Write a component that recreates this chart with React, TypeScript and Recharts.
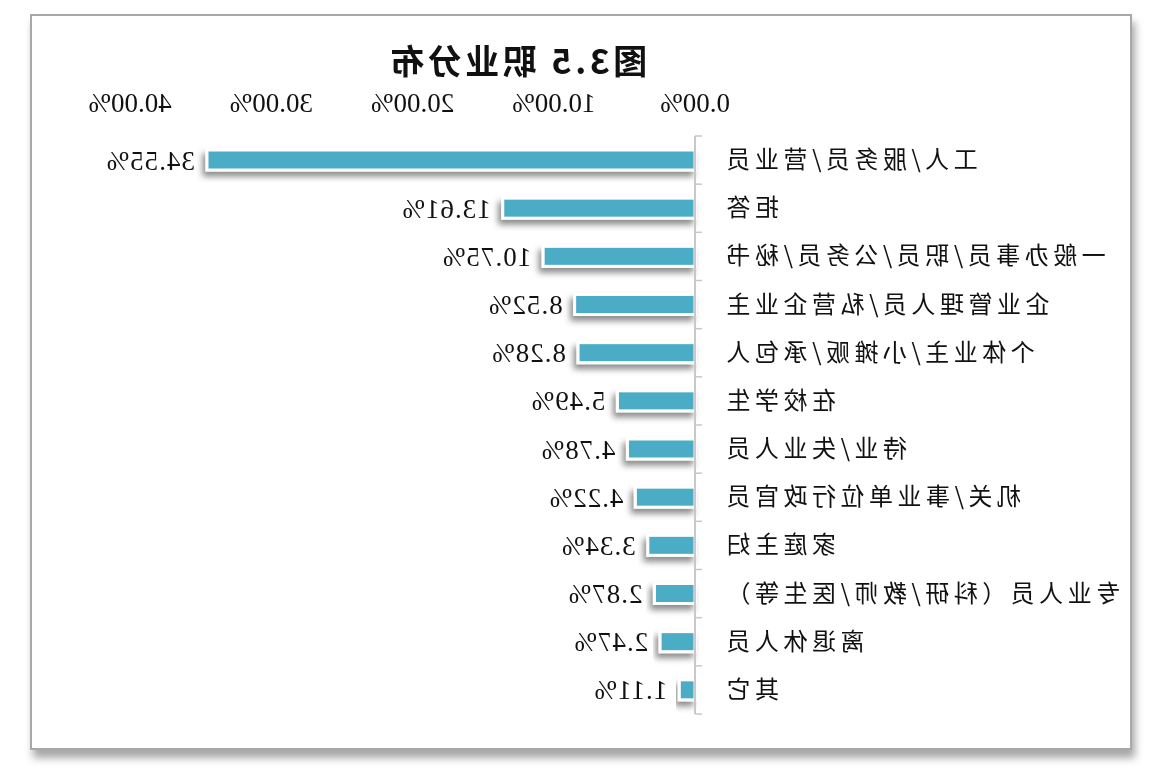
import React from "react";
import { BarChart, Bar, XAxis, YAxis, LabelList } from "recharts";

// 职业分布 (the reference picture is mirrored left-right, so the chart is flipped with scaleX(-1))
const categories = [
  "工人/服务员/营业员",
  "拒答",
  "一般办事员/职员/公务员/秘书",
  "企业管理人员/私营企业主",
  "个体业主/小摊贩/承包人",
  "在校学生",
  "待业/失业人员",
  "机关/事业单位行政官员",
  "家庭主妇",
  "专业人员（科研/教师/医生等）",
  "离退休人员",
  "其它",
];
const shares = [34.55, 13.61, 10.75, 8.52, 8.28, 5.49, 4.78, 4.22, 3.34, 2.87, 2.47, 1.11];
const xTicks = [0, 10, 20, 30, 40];
const title = "图3.5 职业分布";

const data = categories.map((name, i) => ({ name, value: shares[i] }));

const W = 1098;
const H = 732;
const margin = { top: 80, right: 98, bottom: 34, left: 0 };
const yAxisWidth = 435;
const band = (H - margin.top - 40 - margin.bottom) / categories.length;
const serif = "'Liberation Serif', 'DejaVu Serif', serif";
const cjk = "'Noto Sans CJK SC', 'Noto Sans', sans-serif";

const pct = (v: number) => v.toFixed(2) + "%";

function CategoryTick(props: any) {
  const { x, y, payload, index } = props;
  const axisX = x + 27;
  return (
    <g>
      <line x1={axisX - 7} x2={axisX} y1={y - band / 2} y2={y - band / 2} stroke="#c8c8c8" strokeWidth={1.5} />
      {index === categories.length - 1 && (
        <line x1={axisX - 7} x2={axisX} y1={y + band / 2} y2={y + band / 2} stroke="#c8c8c8" strokeWidth={1.5} />
      )}
      <text x={x} y={y} dy={8} textAnchor="end" fontFamily={cjk} fontSize={24} letterSpacing={4.5} fill="#111">
        {payload.value}
      </text>
    </g>
  );
}

function ShadowBar(props: any) {
  const { x, y, width, height, fill } = props;
  if (!width || width <= 0) return null;
  return (
    <rect x={x} y={y} width={width} height={height} fill={fill} stroke="#fff" strokeWidth={3} filter="url(#barShadow)" />
  );
}

export default function App() {
  return (
    <div
      style={{
        position: "absolute",
        left: 30,
        top: 14,
        width: W + 4,
        height: H + 4,
        boxSizing: "border-box",
        border: "2px solid #a8a8a8",
        background: "#fff",
        boxShadow: "3px 8px 8px rgba(0,0,0,0.35)",
      }}
    >
      <div style={{ position: "relative", width: W, height: H, transform: "scaleX(-1)" }}>
        <div
          style={{
            position: "absolute",
            left: 413,
            top: 24,
            width: 400,
            lineHeight: "40px",
            textAlign: "center",
            fontFamily: cjk,
            fontWeight: 700,
            fontSize: 34,
            letterSpacing: 3.5,
            color: "#111",
          }}
        >
          {title}
        </div>
        <BarChart width={W} height={H} data={data} layout="vertical" margin={margin} barSize={20}>
          <defs>
            <filter id="barShadow" x="-10%" y="-50%" width="130%" height="250%">
              <feDropShadow dx={3} dy={5} stdDeviation={3} floodColor="#000" floodOpacity={0.45} />
            </filter>
          </defs>
          <XAxis
            type="number"
            orientation="top"
            domain={[0, 40]}
            ticks={xTicks}
            tickFormatter={pct}
            axisLine={false}
            tickLine={false}
            tickSize={0}
            tickMargin={24}
            height={40}
            tick={{ fontFamily: serif, fontSize: 27, fill: "#111" }}
          />
          <YAxis
            type="category"
            dataKey="name"
            width={yAxisWidth}
            tickSize={0}
            tickMargin={27}
            tickLine={false}
            axisLine={{ stroke: "#c8c8c8", strokeWidth: 2 }}
            interval={0}
            tick={<CategoryTick />}
          />
          <Bar dataKey="value" fill="#4bacc6" isAnimationActive={false} shape={<ShadowBar />}>
            <LabelList
              dataKey="value"
              position="right"
              offset={12}
              formatter={(v: any) => pct(Number(v))}
              style={{ fontFamily: serif, fontSize: 27, fill: "#111", letterSpacing: 1 }}
            />
          </Bar>
        </BarChart>
      </div>
    </div>
  );
}
